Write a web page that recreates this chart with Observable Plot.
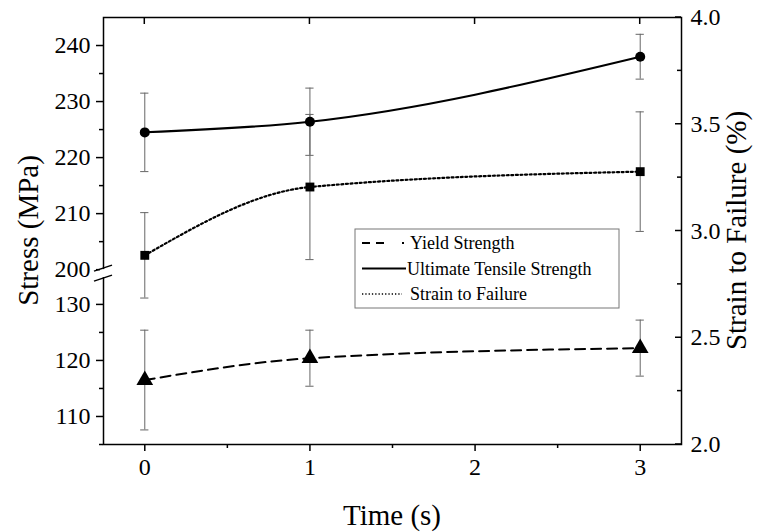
<!DOCTYPE html>
<html>
<head>
<meta charset="utf-8">
<script src="https://cdn.jsdelivr.net/npm/d3@7"></script>
<script src="https://cdn.jsdelivr.net/npm/@observablehq/plot@0.6"></script>
<style>
  html, body { margin: 0; padding: 0; background: #fff; }
  #chart { width: 758px; height: 532px; }
</style>
</head>
<body>
<div id="chart"></div>
<script>
// ---- data ----
const times = [0, 1, 3];
const yieldStrength = [116.5, 120.4, 122.2];   // MPa (left axis, lower segment)
const yieldErr = [8.9, 5.0, 5.0];
const utsStrength = [224.5, 226.4, 238.0];     // MPa (left axis, upper segment)
const utsErr = [7.0, 6.0, 4.0];
const strainFailure = [2.886, 3.206, 3.278];   // % (right axis)
const strainErr = [0.20, 0.34, 0.28];

const seriesNames = ["Yield Strength", "Ultimate Tensile Strength", "Strain to Failure"];
const xTitle = "Time (s)";
const yLeftTitle = "Stress (MPa)";
const yRightTitle = "Strain to Failure (%)";

const xTicks = [0, 1, 2, 3];
const xMinorTicks = [0.5, 1.5, 2.5];
const stressTicks = [110, 120, 130, 200, 210, 220, 230, 240];
const stressMinorTicks = [105, 115, 125, 205, 215, 225, 235];
const strainTicks = [2.0, 2.5, 3.0, 3.5, 4.0];
const strainMinorTicks = [2.25, 2.75, 3.25, 3.75];

// ---- broken stress axis: 105–135.5 | 199.3–245 ----
const lowMin = 105, lowMax = 135.5, highMin = 199.3, highMax = 245;
const breakU = lowMax - lowMin;
const uStress = v => v < 170 ? v - lowMin : v - highMin + breakU;
const uTop = uStress(highMax);
const strainMin = 2, strainMax = 4;
const uStrain = s => (s - strainMin) / (strainMax - strainMin) * uTop;

const mk = (vals, errs, conv) => times.map((t, i) => ({
  t, u: conv(vals[i]), lo: conv(vals[i] - errs[i]), hi: conv(vals[i] + errs[i])
}));
const yieldData = mk(yieldStrength, yieldErr, uStress);
const utsData = mk(utsStrength, utsErr, uStress);
const strainData = mk(strainFailure, strainErr, uStrain);

const stressLabel = new Map(stressTicks.map(v => [uStress(v), String(v)]));
const strainLabel = new Map(strainTicks.map(v => [uStrain(v), v.toFixed(1)]));
const noLabel = () => "";

const capHalf = 0.025;
const errMarks = data => [
  Plot.ruleX(data, {x: "t", y1: "lo", y2: "hi", stroke: "#666", strokeWidth: 1}),
  Plot.ruleY(data, {y: "hi", x1: d => d.t - capHalf, x2: d => d.t + capHalf, stroke: "#666", strokeWidth: 1}),
  Plot.ruleY(data, {y: "lo", x1: d => d.t - capHalf, x2: d => d.t + capHalf, stroke: "#666", strokeWidth: 1})
];

const styles = [
  {dash: "10,6", width: 2},
  {dash: null, width: 2},
  {dash: "2,2.6", width: 2.2}
];

const chart = Plot.plot({
  width: 758,
  height: 532,
  marginLeft: 103,
  marginRight: 77,
  marginTop: 17,
  marginBottom: 88,
  style: {fontFamily: "Liberation Serif", background: "#fff", color: "#000"},
  x: {domain: [-0.25, 3.25]},
  y: {domain: [0, uTop]},
  marks: [
    ...errMarks(yieldData),
    ...errMarks(utsData),
    ...errMarks(strainData),
    Plot.line(yieldData, {x: "t", y: "u", curve: "monotone-x", stroke: "#000", strokeWidth: styles[0].width, strokeDasharray: styles[0].dash}),
    Plot.line(utsData, {x: "t", y: "u", curve: "monotone-x", stroke: "#000", strokeWidth: styles[1].width}),
    Plot.line(strainData, {x: "t", y: "u", curve: "monotone-x", stroke: "#000", strokeWidth: styles[2].width, strokeDasharray: styles[2].dash}),
    Plot.dot(yieldData, {x: "t", y: "u", symbol: "triangle", r: 6.2, fill: "#000"}),
    Plot.dot(utsData, {x: "t", y: "u", symbol: "circle", r: 5, fill: "#000"}),
    Plot.dot(strainData, {x: "t", y: "u", symbol: "square", r: 5, fill: "#000"}),
    // axes
    Plot.axisX(xTicks, {anchor: "bottom", tickSize: 7, tickPadding: 6, fontSize: 24, strokeWidth: 1.5, label: null, tickFormat: d => String(d)}),
    Plot.axisX(xMinorTicks, {anchor: "bottom", tickSize: 4, strokeWidth: 1.5, tickFormat: noLabel, label: null}),
    Plot.axisY(stressTicks.map(uStress), {anchor: "left", tickSize: 7, tickPadding: 6, fontSize: 24, strokeWidth: 1.5, label: null, tickFormat: d => stressLabel.get(d)}),
    Plot.axisY(stressMinorTicks.map(uStress), {anchor: "left", tickSize: 4, strokeWidth: 1.5, tickFormat: noLabel, label: null}),
    Plot.axisY(strainTicks.map(uStrain), {anchor: "right", tickSize: 0, tickPadding: 9, fontSize: 24, label: null, tickFormat: d => strainLabel.get(d)}),
    Plot.frame({stroke: "#000", strokeWidth: 1.5})
  ]
});
document.getElementById("chart").appendChild(chart);

// ---- inward ticks, axis titles, axis break marks & legend (overlay inside the plot's SVG) ----
const svg = d3.select(chart);
const xs = chart.scale("x"), ys = chart.scale("y");
const plotLeft = xs.range[0], plotRight = xs.range[1];
const plotTop = ys.range[1], plotBottom = ys.range[0];
const midY = (plotTop + plotBottom) / 2, midX = (plotLeft + plotRight) / 2;

const inTicks = svg.append("g").attr("stroke", "#000").attr("stroke-width", 1.5);
xTicks.forEach(v => {
  const px = xs.apply(v);
  inTicks.append("line").attr("x1", px).attr("x2", px).attr("y1", plotTop).attr("y2", plotTop + 7);
});
strainTicks.forEach(v => {
  const py = ys.apply(uStrain(v));
  inTicks.append("line").attr("x1", plotRight).attr("x2", plotRight - 6).attr("y1", py).attr("y2", py);
});
strainMinorTicks.forEach(v => {
  const py = ys.apply(uStrain(v));
  inTicks.append("line").attr("x1", plotRight).attr("x2", plotRight - 4).attr("y1", py).attr("y2", py);
});

const titles = svg.append("g").attr("font-family", "Liberation Serif").attr("font-size", 29)
  .attr("fill", "#000").attr("text-anchor", "middle");
titles.append("text").attr("transform", `translate(${plotLeft - 75},${midY}) rotate(-90)`)
  .attr("dy", "0.35em").text(yLeftTitle);
titles.append("text").attr("transform", `translate(${plotRight + 55},${midY}) rotate(-90)`)
  .attr("dy", "0.35em").text(yRightTitle);
titles.append("text").attr("transform", `translate(${midX},${plotBottom + 71})`)
  .attr("dy", "0.35em").text(xTitle);

const yPx = ys.apply(breakU);
const brk = svg.append("g");
brk.append("rect").attr("x", plotLeft - 3).attr("y", yPx - 4).attr("width", 6).attr("height", 8).attr("fill", "#fff");
[-5, 5].forEach(o => {
  brk.append("line").attr("x1", plotLeft - 9).attr("x2", plotLeft + 9)
    .attr("y1", yPx + o + 3).attr("y2", yPx + o - 3)
    .attr("stroke", "#000").attr("stroke-width", 1.5);
});

const lg = svg.append("g").attr("font-family", "Liberation Serif").attr("font-size", 18)
  .attr("text-anchor", "start");
lg.append("rect").attr("x", 355).attr("y", 229).attr("width", 264).attr("height", 79)
  .attr("fill", "#fff").attr("stroke", "#777").attr("stroke-width", 1);
seriesNames.forEach((name, i) => {
  const yy = 243 + i * 25.5;
  const ln = lg.append("line").attr("x1", 362).attr("x2", i === 2 ? 402 : 406).attr("y1", yy).attr("y2", yy)
    .attr("stroke", "#000").attr("stroke-width", i === 2 ? 1.3 : styles[i].width);
  if (i === 0) ln.attr("stroke-dasharray", "8,6,8,18,2,20");
  if (i === 2) ln.attr("stroke-dasharray", "1.3,2");
  lg.append("text").attr("x", i === 1 ? 407 : 410).attr("y", yy).attr("dy", "0.35em").attr("fill", "#000").text(name);
});
</script>
</body>
</html>
